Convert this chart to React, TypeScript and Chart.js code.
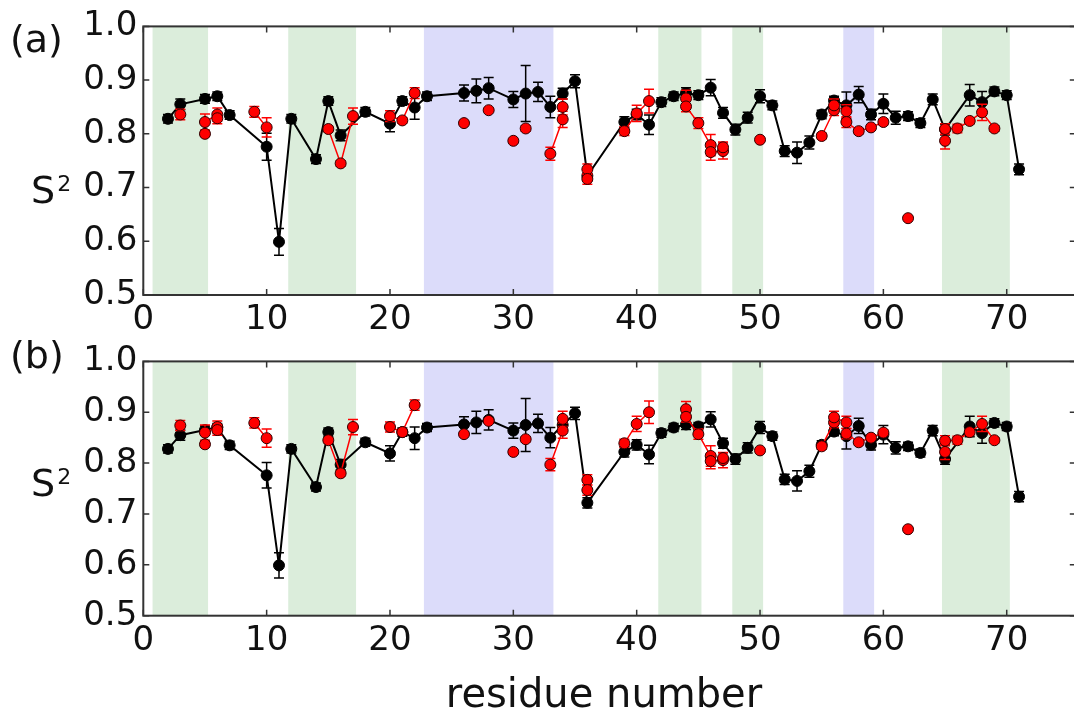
import React, { useEffect, useRef } from 'react';
import { Chart, registerables } from 'chart.js';

Chart.register(...registerables);

const FONT = '"DejaVu Sans", sans-serif';
const TEXT = '#111';
const AXIS = '#333';
const STRAND = 'rgb(219,237,219)';
const HELIX = 'rgb(220,220,250)';

const xTickValues = [0, 10, 20, 30, 40, 50, 60, 70];
const yTickValues = [0.5, 0.6, 0.7, 0.8, 0.9, 1.0];
const X_MIN = 0;
const X_MAX = 75.6;
const Y_MIN = 0.5;
const Y_MAX = 1.0;

// secondary-structure bands (residue ranges)
const spanStart = [0.75, 11.75, 22.75, 41.75, 47.75, 56.75, 64.75];
const spanEnd = [5.25, 17.25, 33.25, 45.25, 50.25, 59.25, 70.25];
const spanKind = ['strand', 'strand', 'helix', 'strand', 'strand', 'helix', 'strand'];

// black series (same in both panels)
const blackResidues = [2, 3, 5, 6, 7, 10, 11, 12, 14, 15, 16, 18, 20, 21, 22, 23, 26, 27, 28, 30, 31, 32, 33, 34, 35, 36,
  39, 40, 41, 42, 43, 44, 45, 46, 47, 48, 49, 50, 51, 52, 53, 54, 55, 56, 57, 58, 59, 60, 61, 62, 63, 64, 65,
  67, 68, 69, 70, 71];
const blackS2 = [0.828, 0.855, 0.865, 0.870, 0.835, 0.776, 0.599, 0.828, 0.753, 0.861, 0.797, 0.841, 0.819, 0.861, 0.849, 0.870,
  0.876, 0.880, 0.885, 0.864, 0.875, 0.878, 0.850, 0.875, 0.898, 0.722,
  0.822, 0.836, 0.817, 0.859, 0.870, 0.876, 0.872, 0.886, 0.839, 0.808, 0.830, 0.870, 0.853, 0.768, 0.765, 0.784, 0.836,
  0.862, 0.853, 0.873, 0.836, 0.856, 0.830, 0.833, 0.820, 0.864, 0.808,
  0.872, 0.859, 0.879, 0.872, 0.734];
const blackErr = [0.008, 0.01, 0.008, 0.008, 0.008, 0.025, 0.025, 0.008, 0.008, 0.008, 0.01, 0.008, 0.015, 0.008, 0.022, 0.008,
  0.015, 0.022, 0.02, 0.015, 0.052, 0.018, 0.02, 0.01, 0.012, 0.01,
  0.01, 0.01, 0.018, 0.008, 0.008, 0.01, 0.008, 0.015, 0.01, 0.01, 0.01, 0.012, 0.008, 0.01, 0.02, 0.012, 0.008,
  0.008, 0.025, 0.015, 0.01, 0.018, 0.012, 0.008, 0.008, 0.01, 0.01,
  0.02, 0.02, 0.008, 0.008, 0.01];

// red series: residues, connection groups, values for panel (a) and (b)
const redResidues = [3, 5, 5, 6, 6, 9, 10, 15, 16, 17, 20, 21, 22, 26, 28, 30, 31, 33, 34, 34, 36, 36, 39, 40, 41,
  44, 44, 45, 46, 46, 47, 47, 50, 55, 56, 56, 57, 57, 58, 59, 60, 62, 65, 65, 66, 67, 68, 69];
const redGroup = [1, 2, 2, 2, 2, 3, 3, 4, 4, 4, 5, 5, 5, 6, 7, 8, 9, 10, 10, 10, 11, 11, 12, 12, 12,
  13, 13, 13, 13, 13, 13, 13, 14, 15, 15, 15, 15, 15, 15, 15, 15, 16, 17, 17, 17, 17, 17, 17];
const redS2a = [0.836, 0.800, 0.822, 0.836, 0.829, 0.841, 0.812, 0.809, 0.745, 0.833, 0.833, 0.825, 0.876, 0.820, 0.844,
  0.787, 0.810, 0.763, 0.827, 0.850, 0.734, 0.716, 0.805, 0.838, 0.861,
  0.866, 0.851, 0.820, 0.779, 0.766, 0.768, 0.775, 0.789, 0.796, 0.844, 0.853, 0.842, 0.822, 0.805, 0.812, 0.822,
  0.643, 0.787, 0.809, 0.810, 0.824, 0.840, 0.810];
const redS2b = [0.874, 0.837, 0.860, 0.871, 0.865, 0.879, 0.849, 0.845, 0.780, 0.871, 0.871, 0.861, 0.914, 0.857, 0.883,
  0.822, 0.847, 0.797, 0.864, 0.887, 0.767, 0.747, 0.839, 0.877, 0.900,
  0.906, 0.891, 0.857, 0.814, 0.804, 0.806, 0.810, 0.825, 0.833, 0.880, 0.890, 0.880, 0.858, 0.841, 0.850, 0.860,
  0.670, 0.822, 0.844, 0.845, 0.861, 0.877, 0.845];
const redErr = [0.01, 0.005, 0.015, 0.012, 0.01, 0.01, 0.018, 0.005, 0.005, 0.015, 0.01, 0.005, 0.01, 0.003, 0.003,
  0.003, 0.005, 0.012, 0.015, 0.015, 0.01, 0.01, 0.008, 0.015, 0.022,
  0.015, 0.01, 0.01, 0.02, 0.015, 0.015, 0.01, 0.003, 0.005, 0.01, 0.012, 0.012, 0.01, 0.005, 0.005, 0.005,
  0.003, 0.015, 0.01, 0.008, 0.005, 0.015, 0.005];

const CANVAS_W = 1084;
const PAD_RIGHT = 8.2;
const Y_AXIS_W = 143.3;
const TICK_LEN = 6;
const CAP = 5;

function redData(values: number[]) {
  const pts: any[] = [];
  const errs: number[] = [];
  for (let i = 0; i < redResidues.length; i++) {
    if (i > 0 && redGroup[i] !== redGroup[i - 1]) {
      pts.push({ x: (redResidues[i] + redResidues[i - 1]) / 2, y: null });
      errs.push(0);
    }
    pts.push({ x: redResidues[i], y: values[i] });
    errs.push(redErr[i]);
  }
  return { pts, errs };
}

const decorPlugin = {
  id: 'decor',
  beforeDatasetsDraw(chart: any) {
    const { ctx, chartArea: a, scales } = chart;
    const x = scales.x;
    ctx.save();
    for (let i = 0; i < spanStart.length; i++) {
      const x0 = x.getPixelForValue(spanStart[i]);
      const x1 = x.getPixelForValue(spanEnd[i]);
      ctx.fillStyle = spanKind[i] === 'helix' ? HELIX : STRAND;
      ctx.fillRect(x0, a.top, x1 - x0, a.bottom - a.top);
    }
    ctx.restore();
  },
  beforeDatasetDraw(chart: any, args: any) {
    const ds = chart.data.datasets[args.index];
    const errs: number[] = ds.errors;
    if (!errs) return;
    const meta = chart.getDatasetMeta(args.index);
    const y = chart.scales.y;
    const ctx = chart.ctx;
    ctx.save();
    ctx.strokeStyle = ds.errorColor;
    ctx.lineWidth = 1.5;
    ds.data.forEach((p: any, i: number) => {
      if (p.y == null || !errs[i]) return;
      const px = meta.data[i].x;
      const yt = y.getPixelForValue(p.y + errs[i]);
      const yb = y.getPixelForValue(p.y - errs[i]);
      ctx.beginPath();
      ctx.moveTo(px, yt);
      ctx.lineTo(px, yb);
      ctx.moveTo(px - CAP, yt);
      ctx.lineTo(px + CAP, yt);
      ctx.moveTo(px - CAP, yb);
      ctx.lineTo(px + CAP, yb);
      ctx.stroke();
    });
    ctx.restore();
  },
  afterDatasetsDraw(chart: any) {
    const { ctx, chartArea: a, scales } = chart;
    ctx.save();
    ctx.strokeStyle = AXIS;
    ctx.lineWidth = 1.5;
    ctx.beginPath();
    for (const v of xTickValues) {
      const px = scales.x.getPixelForValue(v);
      ctx.moveTo(px, a.bottom);
      ctx.lineTo(px, a.bottom - TICK_LEN);
      ctx.moveTo(px, a.top);
      ctx.lineTo(px, a.top + TICK_LEN);
    }
    for (const v of yTickValues) {
      const py = scales.y.getPixelForValue(v);
      ctx.moveTo(a.left, py);
      ctx.lineTo(a.left + TICK_LEN, py);
      ctx.moveTo(a.right, py);
      ctx.lineTo(a.right - TICK_LEN, py);
    }
    ctx.stroke();
    ctx.lineWidth = 2;
    ctx.strokeRect(a.left, a.top, a.right - a.left, a.bottom - a.top);
    ctx.restore();
  },
};

function makeConfig(redValues: number[], padTop: number, xAxisHeight: number): any {
  const red = redData(redValues);
  const black = blackResidues.map((r, i) => ({ x: r, y: blackS2[i] }));
  return {
    type: 'line',
    data: {
      datasets: [
        {
          data: red.pts,
          errors: red.errs,
          errorColor: '#ff0000',
          borderColor: '#ff0000',
          borderWidth: 1.5,
          pointRadius: 5.5,
          pointBackgroundColor: '#ff0000',
          pointBorderColor: '#300000',
          pointBorderWidth: 1,
          spanGaps: false,
          order: 0,
        },
        {
          data: black,
          errors: blackErr,
          errorColor: '#000000',
          borderColor: '#000000',
          borderWidth: 2,
          pointRadius: 5.5,
          pointBackgroundColor: '#000000',
          pointBorderColor: '#000000',
          pointBorderWidth: 1,
          order: 1,
        },
      ],
    },
    options: {
      animation: false,
      responsive: false,
      events: [],
      layout: { padding: { top: padTop, right: PAD_RIGHT, bottom: 0, left: 0 } },
      plugins: { legend: { display: false }, tooltip: { enabled: false } },
      scales: {
        x: {
          type: 'linear',
          min: X_MIN,
          max: X_MAX,
          grid: { display: false, drawTicks: false },
          border: { display: false },
          afterBuildTicks: (s: any) => { s.ticks = xTickValues.map((v) => ({ value: v })); },
          afterFit: (s: any) => { s.height = xAxisHeight; },
          ticks: {
            autoSkip: false,
            maxRotation: 0,
            padding: 5,
            color: TEXT,
            font: { family: FONT, size: 34 },
            callback: (v: any) => String(v),
          },
        },
        y: {
          type: 'linear',
          min: Y_MIN,
          max: Y_MAX,
          grid: { display: false, drawTicks: false },
          border: { display: false },
          afterBuildTicks: (s: any) => { s.ticks = yTickValues.map((v) => ({ value: v })); },
          afterFit: (s: any) => { s.width = Y_AXIS_W; },
          ticks: {
            autoSkip: false,
            padding: 6,
            color: TEXT,
            font: { family: FONT, size: 34 },
            callback: (v: any) => Number(v).toFixed(1),
          },
        },
      },
    },
    plugins: [decorPlugin],
  };
}

function Panel(props: { redValues: number[]; top: number; height: number; padTop: number; xAxisHeight: number }) {
  const ref = useRef<HTMLCanvasElement>(null);
  useEffect(() => {
    const chart = new Chart(ref.current as HTMLCanvasElement, makeConfig(props.redValues, props.padTop, props.xAxisHeight));
    return () => chart.destroy();
  }, []);
  return (
    <canvas
      ref={ref}
      width={CANVAS_W}
      height={props.height}
      style={{ position: 'absolute', left: 0, top: props.top, width: CANVAS_W, height: props.height }}
    />
  );
}

const textBase: React.CSSProperties = {
  position: 'absolute',
  fontFamily: FONT,
  color: TEXT,
  lineHeight: 1,
  whiteSpace: 'nowrap',
};

function S2Label(props: { top: number }) {
  return (
    <div style={{ ...textBase, left: 31, top: props.top, fontSize: 38 }}>
      S<span style={{ fontSize: 22, position: 'relative', top: -12, marginLeft: 2 }}>2</span>
    </div>
  );
}

export default function App() {
  return (
    <div style={{ position: 'fixed', left: 0, top: 0, width: 1074, height: 715, overflow: 'hidden', background: '#fff' }}>
      <Panel redValues={redS2a} top={0} height={335} padTop={26} xAxisHeight={40} />
      <Panel redValues={redS2b} top={335} height={380} padTop={14.3} xAxisHeight={99.3} />
      <div style={{ ...textBase, left: 10, top: 20, fontSize: 38 }}>(a)</div>
      <div style={{ ...textBase, left: 10, top: 336, fontSize: 38 }}>(b)</div>
      <S2Label top={171} />
      <S2Label top={464} />
      <div style={{ ...textBase, left: 604, top: 673, fontSize: 40, transform: 'translateX(-50%)' }}>residue number</div>
    </div>
  );
}
